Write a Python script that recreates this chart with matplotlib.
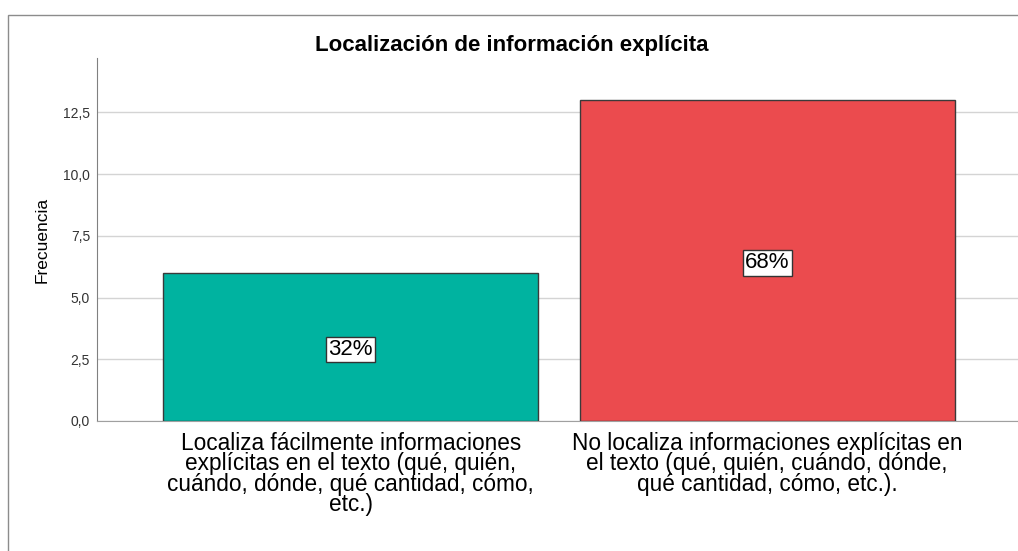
import matplotlib.pyplot as plt
from matplotlib.patches import Rectangle

# Datos del gráfico
categorias = ['Localiza fácilmente informaciones\nexplícitas en el texto (qué, quién,\ncuándo, dónde, qué cantidad, cómo,\netc.)',
              'No localiza informaciones explícitas en\nel texto (qué, quién, cuándo, dónde,\nqué cantidad, cómo, etc.).']
frecuencias = [6, 13]
porcentajes = ['32%', '68%']
colores = ['#00b3a0', '#eb4b4e']
ticks_y = [0, 2.5, 5, 7.5, 10, 12.5]
etiquetas_y = ['0,0', '2,5', '5,0', '7,5', '10,0', '12,5']

plt.rcParams['font.family'] = ['Liberation Sans', 'DejaVu Sans']

fig = plt.figure(figsize=(10.18, 5.51), dpi=100)

# marco exterior (solo se ven borde izquierdo y superior)
fig.add_artist(Rectangle((8 / 1018, -0.1), 1.2, 1 - 15 / 551 + 0.1, transform=fig.transFigure,
                         fill=False, edgecolor='#8c8c8c', linewidth=1))

ax = fig.add_axes([97 / 1018, 1 - 421 / 551, 923 / 1018, (421 - 58) / 551])

x = range(len(categorias))
barras = ax.bar(x, frecuencias, width=0.9, color=colores, edgecolor='#3a3a3a', linewidth=1, zorder=3)

for b, p in zip(barras, porcentajes):
    ax.text(b.get_x() + b.get_width() / 2, b.get_height() / 2 - 0.1, p, ha='center', va='center',
            fontsize=16, zorder=4,
            bbox=dict(boxstyle='square,pad=0.1', facecolor='white', edgecolor='#333333', linewidth=1))

ax.set_xlim(-0.609, 1.607)
ax.set_ylim(0, 14.7)
ax.set_yticks(ticks_y)
ax.set_yticklabels(etiquetas_y, fontsize=10, color='#333333')
ax.set_xticks(list(x))
ax.set_xticklabels(categorias, fontsize=16.3, linespacing=0.85, va='top')
ax.tick_params(axis='y', length=0, pad=5)
ax.tick_params(axis='x', length=0, pad=8)

ax.grid(axis='y', color='#d4d4d4', linewidth=1, zorder=0)
for s in ['top', 'right']:
    ax.spines[s].set_visible(False)
ax.spines['left'].set_color('#808080')
ax.spines['bottom'].set_color('#a0a0a0')

ax.set_ylabel('Frecuencia', fontsize=12.5, labelpad=10)
fig.text(512 / 1018, 1 - 45 / 551, 'Localización de información explícita', ha='center', va='center',
         fontsize=16, fontweight='bold')

fig.savefig('out.png', dpi=100)
